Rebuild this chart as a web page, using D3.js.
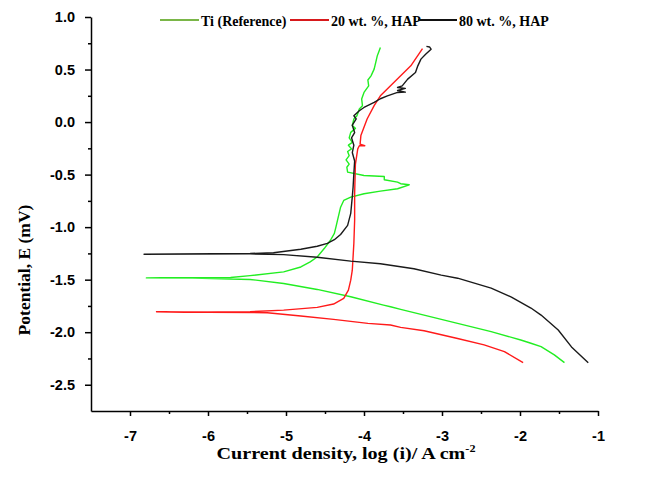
<!DOCTYPE html>
<html>
<head>
<meta charset="utf-8">
<script src="https://cdn.jsdelivr.net/npm/d3@7"></script>
<style>
  body { margin: 0; background: #fff; }
  svg { display: block; }
  .tick text { font-family: "Liberation Sans", Arial, sans-serif; font-weight: bold; font-size: 14.5px; fill: #000; }
  .title { font-family: "Liberation Serif", "Times New Roman", serif; font-weight: bold; fill: #000; }
</style>
</head>
<body>
<div id="chart"></div>
<script>
// series names (legend order)
var seriesNames = ["Ti (Reference)", "20 wt. %, HAP", "80 wt. %, HAP"];

// axis ticks
var xTicks = [-7, -6, -5, -4, -3, -2, -1];
var xMinorTicks = [-6.5, -5.5, -4.5, -3.5, -2.5, -1.5];
var yTicks = [1.0, 0.5, 0.0, -0.5, -1.0, -1.5, -2.0, -2.5];
var yMinorTicks = [0.75, 0.25, -0.25, -0.75, -1.25, -1.75, -2.25];

// Ti (Reference): [log(i), E], scan from cathodic end up to anodic end
var tiPoints = [
  [-1.43, -2.29], [-1.56, -2.216], [-1.73, -2.138], [-1.86, -2.105], [-1.99, -2.074],
  [-2.37, -1.995], [-2.80, -1.916], [-3.23, -1.837], [-3.53, -1.783], [-3.66, -1.758],
  [-3.75, -1.742], [-4.17, -1.663], [-4.60, -1.593], [-5.03, -1.536], [-5.46, -1.498],
  [-6.20, -1.485], [-6.79, -1.483],
  [-6.60, -1.482], [-5.71, -1.48], [-5.46, -1.462], [-5.03, -1.426], [-4.81, -1.379],
  [-4.69, -1.331], [-4.60, -1.284], [-4.51, -1.204], [-4.43, -1.125], [-4.38, -1.06],
  [-4.36, -1.0], [-4.34, -0.935], [-4.30, -0.81], [-4.26, -0.746], [-4.17, -0.714],
  [-4.00, -0.682], [-3.79, -0.657], [-3.57, -0.635], [-3.42, -0.597],
  [-3.53, -0.587], [-3.57, -0.572], [-3.74, -0.549], [-3.74, -0.518], [-4.00, -0.509],
  [-4.21, -0.477], [-4.22, -0.43], [-4.19, -0.40], [-4.23, -0.36], [-4.19, -0.32],
  [-4.21, -0.28], [-4.16, -0.255], [-4.20, -0.22], [-4.15, -0.193], [-4.19, -0.15],
  [-4.17, -0.098], [-4.11, -0.06], [-4.15, -0.034], [-4.13, 0.029], [-4.09, 0.06],
  [-4.06, 0.124], [-4.02, 0.156], [-4.03, 0.22], [-4.00, 0.282], [-3.94, 0.345],
  [-3.95, 0.40], [-3.91, 0.44], [-3.87, 0.504], [-3.85, 0.566], [-3.83, 0.63],
  [-3.81, 0.67], [-3.79, 0.709]
];

// 20 wt. %, HAP
var hap20Points = [
  [-1.96, -2.29], [-2.20, -2.185], [-2.46, -2.12], [-2.80, -2.06], [-3.23, -1.986],
  [-3.53, -1.954], [-3.66, -1.932], [-3.95, -1.916], [-4.39, -1.878], [-4.81, -1.846],
  [-5.24, -1.815], [-6.00, -1.81], [-6.66, -1.805],
  [-6.30, -1.81], [-5.46, -1.805], [-5.03, -1.79], [-4.60, -1.764], [-4.39, -1.732],
  [-4.26, -1.678], [-4.20, -1.60], [-4.17, -1.505], [-4.15, -1.41], [-4.13, -1.154],
  [-4.12, -0.935], [-4.12, -0.68], [-4.11, -0.40], [-4.08, -0.255], [-4.06, -0.225],
  [-3.99, -0.225], [-4.05, -0.21], [-4.04, -0.129], [-3.96, 0.029], [-3.87, 0.156],
  [-3.79, 0.25], [-3.66, 0.345], [-3.53, 0.44], [-3.40, 0.535], [-3.25, 0.70]
];

// 80 wt. %, HAP
var hap80Points = [
  [-1.125, -2.29], [-1.34, -2.14], [-1.51, -1.979], [-1.73, -1.837], [-1.86, -1.77],
  [-2.11, -1.666], [-2.37, -1.581], [-2.80, -1.486], [-3.01, -1.457], [-3.36, -1.396],
  [-3.79, -1.348], [-4.17, -1.324], [-4.60, -1.287], [-5.03, -1.262], [-5.46, -1.255],
  [-6.20, -1.255], [-6.82, -1.258],
  [-6.40, -1.255], [-5.46, -1.251], [-5.16, -1.244], [-4.81, -1.211], [-4.60, -1.182],
  [-4.47, -1.154], [-4.38, -1.12], [-4.30, -1.07], [-4.21, -0.983], [-4.17, -0.869],
  [-4.15, -0.71], [-4.14, -0.62], [-4.13, -0.49], [-4.12, -0.37], [-4.15, -0.29],
  [-4.13, -0.22], [-4.16, -0.15], [-4.12, -0.10], [-4.15, -0.03], [-4.10, 0.03],
  [-4.13, 0.06], [-4.06, 0.108], [-4.00, 0.139], [-3.87, 0.187], [-3.79, 0.222],
  [-3.70, 0.25], [-3.57, 0.282], [-3.47, 0.285], [-3.57, 0.30], [-3.47, 0.32],
  [-3.57, 0.329], [-3.51, 0.345], [-3.44, 0.409], [-3.34, 0.472], [-3.31, 0.535],
  [-3.27, 0.599], [-3.21, 0.646], [-3.14, 0.694], [-3.16, 0.715], [-3.20, 0.72]
];

var seriesPoints = [tiPoints, hap20Points, hap80Points];
var lineColors = ["#22ee22", "#ff1a1a", "#1a1a1a"];
var legendColors = ["#7ab648", "#d7191c", "#111111"];

var width = 647, height = 479;
var svg = d3.select("#chart").append("svg")
  .attr("width", width)
  .attr("height", height);

var x = d3.scaleLinear().domain([-7.5, -1]).range([91, 598]);
var y = d3.scaleLinear().domain([-2.75, 1.0]).range([411, 17]);

// curves
var line = d3.line()
  .x(function(d){ return x(d[0]); })
  .y(function(d){ return y(d[1]); });

svg.selectAll("path.curve")
  .data(seriesPoints)
  .enter().append("path")
  .attr("class", "curve")
  .attr("d", line)
  .attr("fill", "none")
  .attr("stroke", function(d, i){ return lineColors[i]; })
  .attr("stroke-width", 1.4)
  .attr("stroke-linejoin", "round");

// x axis: major + minor ticks
svg.append("g")
  .attr("transform", "translate(0," + 411 + ")")
  .call(d3.axisBottom(x).tickValues(xTicks).tickSize(5).tickSizeOuter(0)
    .tickPadding(15).tickFormat(function(d){ return String(d); }));
svg.append("g")
  .attr("transform", "translate(0," + 411 + ")")
  .call(d3.axisBottom(x).tickValues(xMinorTicks).tickSize(3).tickSizeOuter(0).tickFormat(""))
  .select(".domain").remove();

// y axis
svg.append("g")
  .attr("transform", "translate(" + 91 + ",0)")
  .call(d3.axisLeft(y).tickValues(yTicks).tickSize(6).tickSizeOuter(0)
    .tickPadding(10).tickFormat(function(d){ return d.toFixed(1); }));
svg.append("g")
  .attr("transform", "translate(" + 91 + ",0)")
  .call(d3.axisLeft(y).tickValues(yMinorTicks).tickSize(3).tickSizeOuter(0).tickFormat(""))
  .select(".domain").remove();

svg.selectAll(".domain, .tick line")
  .attr("stroke", "#000")
  .attr("stroke-width", 1.5);

// axis titles (the source image is a bit stretched sideways)
var xTitle = svg.append("text")
  .attr("class", "title")
  .attr("transform", "translate(346,459) scale(1.22,1)")
  .attr("text-anchor", "middle")
  .style("font-size", "16.5px");
xTitle.append("tspan").text("Current density, log (i)/ A cm");
xTitle.append("tspan").attr("dy", -7).style("font-size", "10px").text("-2");

svg.append("text")
  .attr("class", "title")
  .attr("transform", "translate(30,270) rotate(-90)")
  .attr("text-anchor", "middle")
  .style("font-size", "17.5px")
  .text("Potential, E (mV)");

// legend
var legendX = [160, 290, 418];
var legend = svg.selectAll("g.legend")
  .data(seriesNames)
  .enter().append("g")
  .attr("class", "legend")
  .attr("transform", function(d, i){ return "translate(" + legendX[i] + ",20)"; });
legend.append("line")
  .attr("x1", 0).attr("x2", 39)
  .attr("y1", 0).attr("y2", 0)
  .attr("stroke", function(d, i){ return legendColors[i]; })
  .attr("stroke-width", 2);
legend.append("text")
  .attr("class", "title")
  .attr("x", 41)
  .attr("y", 6)
  .style("font-size", "14px")
  .text(function(d){ return d; });
</script>
</body>
</html>
